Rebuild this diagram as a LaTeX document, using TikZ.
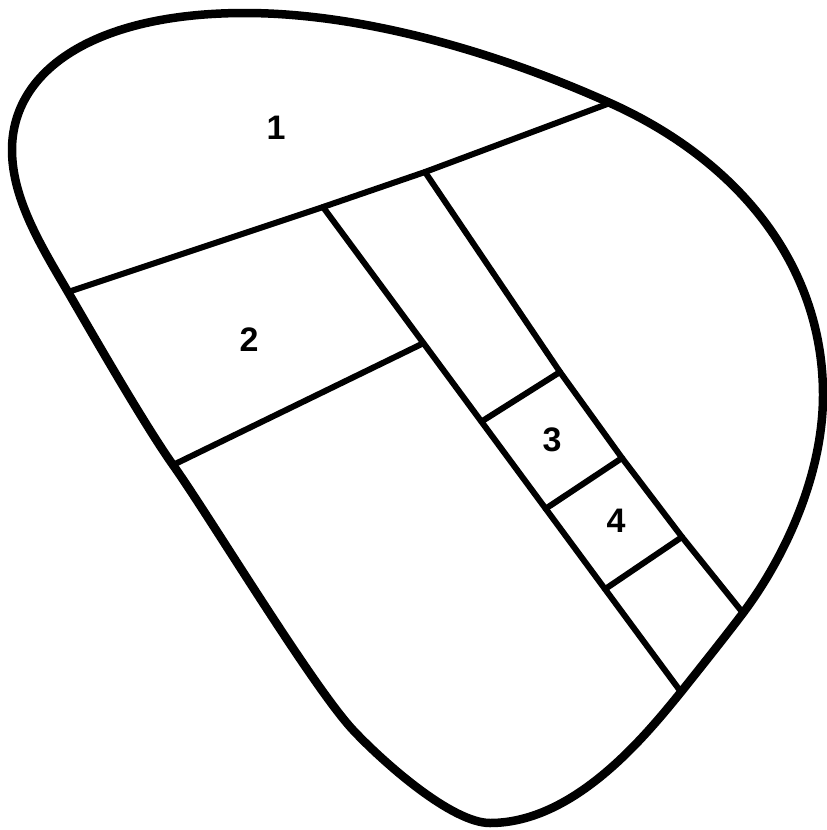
\documentclass[tikz,border=0pt]{standalone}
\usepackage{fontspec}
\setmainfont{Liberation Sans}
\usetikzlibrary{calc}
\tikzset{
  outline/.style={line width=8.5pt, line join=round},
  divider/.style={line width=6pt, line join=round, line cap=round},
  regionlabel/.style={font=\fontsize{34}{34}\selectfont\bfseries, inner sep=0pt}
}
\begin{document}
\begin{tikzpicture}[x=1pt,y=-1pt]
\useasboundingbox (0,0) rectangle (827,830);
% points on the outline
\coordinate (A1) at (68,292);
\coordinate (A2) at (610,103);
\coordinate (D1) at (173,465);
\coordinate (B2) at (681,692);
\coordinate (C2) at (743,613);
% junctions on the upper divider
\coordinate (AB) at (323,207);
\coordinate (AC) at (425,172);
% junctions on the left strip edge (straight line AB--B2)
\coordinate (BD)  at ($(AB)!(421,345)!(B2)$);
\coordinate (B3a) at ($(AB)!(485,419)!(B2)$);
\coordinate (B4a) at ($(AB)!(548,507)!(B2)$);
\coordinate (B5a) at ($(AB)!(608,587)!(B2)$);
% junctions on the right strip edge
\coordinate (C3a) at (560,372);
\coordinate (C4a) at (622,458);
\coordinate (C5a) at (682,537);
% outer boundary
\draw[outline] (A1)
  .. controls (43,249) and (12,200) .. (12,150)
  .. controls (12,70) and (95,13) .. (245,13)
  .. controls (365,13) and (501,54) .. (A2)
  .. controls (735,159) and (823,262) .. (823,395)
  .. controls (823,475) and (785,557) .. (C2)
  .. controls (728,633) and (697,672) .. (B2)
  .. controls (646,735) and (575,823) .. (490,823)
  .. controls (452,823) and (384,763) .. (353,730)
  .. controls (312,686) and (208,514) .. (D1)
  .. controls (144,424) and (93,335) .. (A1)
  -- cycle;
% dividers
\draw[divider] (A1) -- (AB) -- (AC) -- (A2);
\draw[divider] (AB) -- (B2);
\draw[divider] (AC) -- (C3a) -- (C4a) -- (C5a) -- (C2);
\draw[divider] (D1) -- (BD);
\draw[divider] (B3a) -- (C3a);
\draw[divider] (B4a) -- (C4a);
\draw[divider] (B5a) -- (C5a);
% labels
\node[regionlabel] (l1) at (276,128) {1};
\node[regionlabel] (l2) at (249,340) {2};
\node[regionlabel] (l3) at (552,440) {3};
\node[regionlabel] (l4) at (616,521) {4};
\end{tikzpicture}
\end{document}
